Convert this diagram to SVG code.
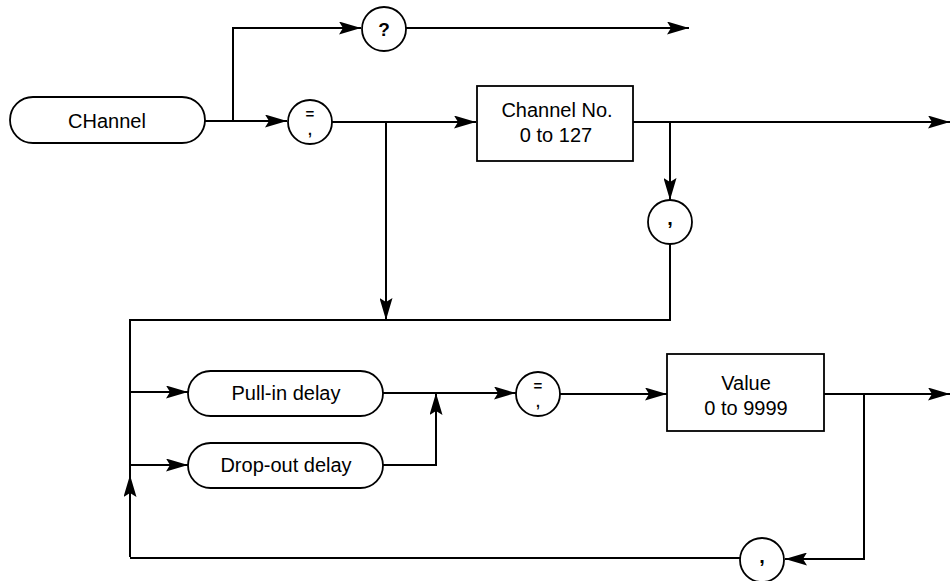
<svg xmlns="http://www.w3.org/2000/svg" width="951" height="581" viewBox="0 0 951 581">
<style>
.ln{fill:none;stroke:#000;stroke-width:2;stroke-linejoin:miter}
.nd{fill:#fff;stroke:#000;stroke-width:1.8}
.t{font-family:"Liberation Sans",Arial,sans-serif;font-size:20px;fill:#000;text-anchor:middle}
.s{font-family:"Liberation Sans",Arial,sans-serif;font-weight:bold;fill:#000;text-anchor:middle}
</style>
<defs>
<marker id="a" viewBox="0 0 22 13" refX="22" refY="6.5" markerWidth="22" markerHeight="13" markerUnits="userSpaceOnUse" orient="auto">
<path d="M0,0 L22,6.5 L0,13 L4,6.5 Z" fill="#000"/>
</marker>
</defs>
<g id="connectors">
<path class="ln" d="M205,121 H233 V28 H361" marker-end="url(#a)"/>
<path class="ln" d="M406,28 H689" marker-end="url(#a)"/>
<path class="ln" d="M233,121 H287" marker-end="url(#a)"/>
<path class="ln" d="M332,122 H476" marker-end="url(#a)"/>
<path class="ln" d="M386,122 V320" marker-end="url(#a)"/>
<path class="ln" d="M633,122 H950" marker-end="url(#a)"/>
<path class="ln" d="M670,122 V200" marker-end="url(#a)"/>
<path class="ln" d="M670,244 V320 H130 V557"/>
<path class="ln" d="M130,392 H188" marker-end="url(#a)"/>
<path class="ln" d="M130,465 H188" marker-end="url(#a)"/>
<path class="ln" d="M130,557 V475" marker-end="url(#a)"/>
<path class="ln" d="M383,465 H436 V393" marker-end="url(#a)"/>
<path class="ln" d="M383,393 H516" marker-end="url(#a)"/>
<path class="ln" d="M560,394 H667" marker-end="url(#a)"/>
<path class="ln" d="M824,394 H950" marker-end="url(#a)"/>
<path class="ln" d="M864,394 V559 H785" marker-end="url(#a)"/>
<path class="ln" d="M740,558 H130"/>
</g>
<g id="channel">
<rect class="nd" x="10" y="97" width="195" height="46" rx="23"/>
<text class="t" x="107" y="128">CHannel</text>
</g>
<g id="query">
<circle class="nd" cx="384" cy="29" r="22"/>
<text class="s" x="384" y="36" font-size="19">?</text>
</g>
<g id="eqcomma1">
<circle class="nd" cx="310" cy="122" r="22"/>
<text class="s" x="310" y="119" font-size="15">=</text>
<text class="s" x="310" y="135" font-size="14">,</text>
</g>
<g id="channelno">
<rect class="nd" x="477" y="86" width="156" height="75"/>
<text class="t" x="557" y="117">Channel No.</text>
<text class="t" x="556" y="142">0 to 127</text>
</g>
<g id="comma1">
<circle class="nd" cx="670" cy="222" r="22"/>
<text class="s" x="670" y="225" font-size="20">,</text>
</g>
<g id="pullin">
<rect class="nd" x="188" y="371" width="195" height="45" rx="22.5"/>
<text class="t" x="286" y="400">Pull-in delay</text>
</g>
<g id="dropout">
<rect class="nd" x="188" y="443" width="195" height="45" rx="22.5"/>
<text class="t" x="286" y="472">Drop-out delay</text>
</g>
<g id="eqcomma2">
<circle class="nd" cx="538" cy="394" r="22"/>
<text class="s" x="538" y="391" font-size="15">=</text>
<text class="s" x="538" y="407" font-size="14">,</text>
</g>
<g id="value">
<rect class="nd" x="667" y="354" width="157" height="77"/>
<text class="t" x="746" y="390">Value</text>
<text class="t" x="746" y="415">0 to 9999</text>
</g>
<g id="comma2">
<circle class="nd" cx="762" cy="560" r="22"/>
<text class="s" x="762" y="563" font-size="20">,</text>
</g>
</svg>
